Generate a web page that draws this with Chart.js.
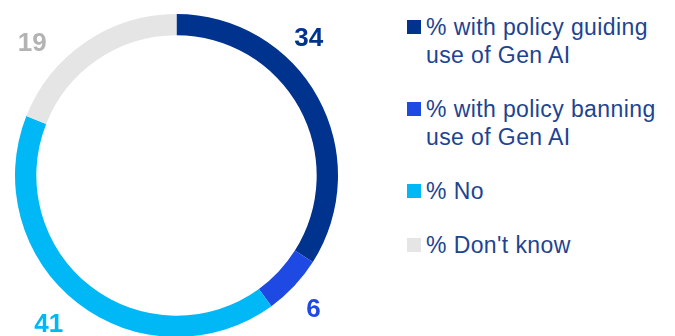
<!DOCTYPE html>
<html>
<head>
<meta charset="utf-8">
<script src="https://cdn.jsdelivr.net/npm/chart.js@4/dist/chart.umd.min.js"></script>
<style>
    html, body { margin: 0; padding: 0; background: #fff; }
    body { width: 675px; height: 336px; overflow: hidden; position: relative; font-family: "Liberation Sans", Arial, sans-serif; }
    #wrap { position: absolute; left: 0; top: 0; width: 353px; height: 351px; }
    #legend { position: absolute; left: 407px; top: 13px; }
    .item { position: relative; padding-left: 19px; margin-bottom: 26px; font-size: 23px; line-height: 28px; color: #1d4492; letter-spacing: 0.4px; white-space: nowrap; }
    .item .box { position: absolute; left: 0; top: 7px; width: 14px; height: 14px; }
</style>
</head>
<body>
<div id="wrap"><canvas id="policyChart"></canvas></div>
<div id="legend"></div>
<script>
// Dane wykresu
const categories = [
    ['% with policy guiding', 'use of Gen AI'],
    ['% with policy banning', 'use of Gen AI'],
    ['% No'],
    ["% Don't know"]
];
const shares = [34, 6, 41, 19];
const sliceColors = ['#00338d', '#1e49e2', '#00b8f5', '#e5e5e5'];
const valueColors = ['#00338d', '#1e49e2', '#00b8f5', '#b3b3b3'];

// Etykiety wartości poza pierścieniem
const outsideLabels = {
    id: 'outsideLabels',
    afterDatasetsDraw(chart, args, opts) {
        const ctx = chart.ctx;
        const arcs = chart.getDatasetMeta(0).data;
        ctx.save();
        ctx.font = 'bold 26px "Liberation Sans", Arial, sans-serif';
        ctx.textAlign = 'center';
        ctx.textBaseline = 'alphabetic';
        arcs.forEach((arc, i) => {
            const p = arc.getProps(['x', 'y', 'startAngle', 'endAngle', 'outerRadius'], true);
            const a = (p.startAngle + p.endAngle) / 2 + opts.angleShift[i] * Math.PI / 180;
            const r = p.outerRadius + opts.gap[i];
            ctx.fillStyle = valueColors[i];
            ctx.fillText(String(shares[i]), p.x + Math.cos(a) * r, p.y + Math.sin(a) * r + 9);
        });
        ctx.restore();
    }
};

const ctx = document.getElementById('policyChart').getContext('2d');
const chart = new Chart(ctx, {
    type: 'doughnut',
    data: {
        labels: categories,
        datasets: [{
            data: shares,
            backgroundColor: sliceColors,
            borderWidth: 0,
            hoverOffset: 0
        }]
    },
    options: {
        responsive: true,
        maintainAspectRatio: false,
        animation: false,
        cutout: '86.8%',
        layout: { padding: { left: 15, right: 15, top: 14, bottom: 14 } },
        plugins: {
            legend: { display: false },
            tooltip: { enabled: false },
            outsideLabels: { angleShift: [-17.5, 0.8, 3, -13], gap: [30, 29, 34, 35] }
        }
    },
    plugins: [outsideLabels]
});

// Legenda HTML
const legend = document.getElementById('legend');
categories.forEach((lines, i) => {
    const item = document.createElement('div');
    item.className = 'item';
    const box = document.createElement('span');
    box.className = 'box';
    box.style.background = sliceColors[i];
    item.appendChild(box);
    lines.forEach((line, j) => {
        if (j > 0) item.appendChild(document.createElement('br'));
        item.appendChild(document.createTextNode(line));
    });
    legend.appendChild(item);
});
</script>
</body>
</html>
